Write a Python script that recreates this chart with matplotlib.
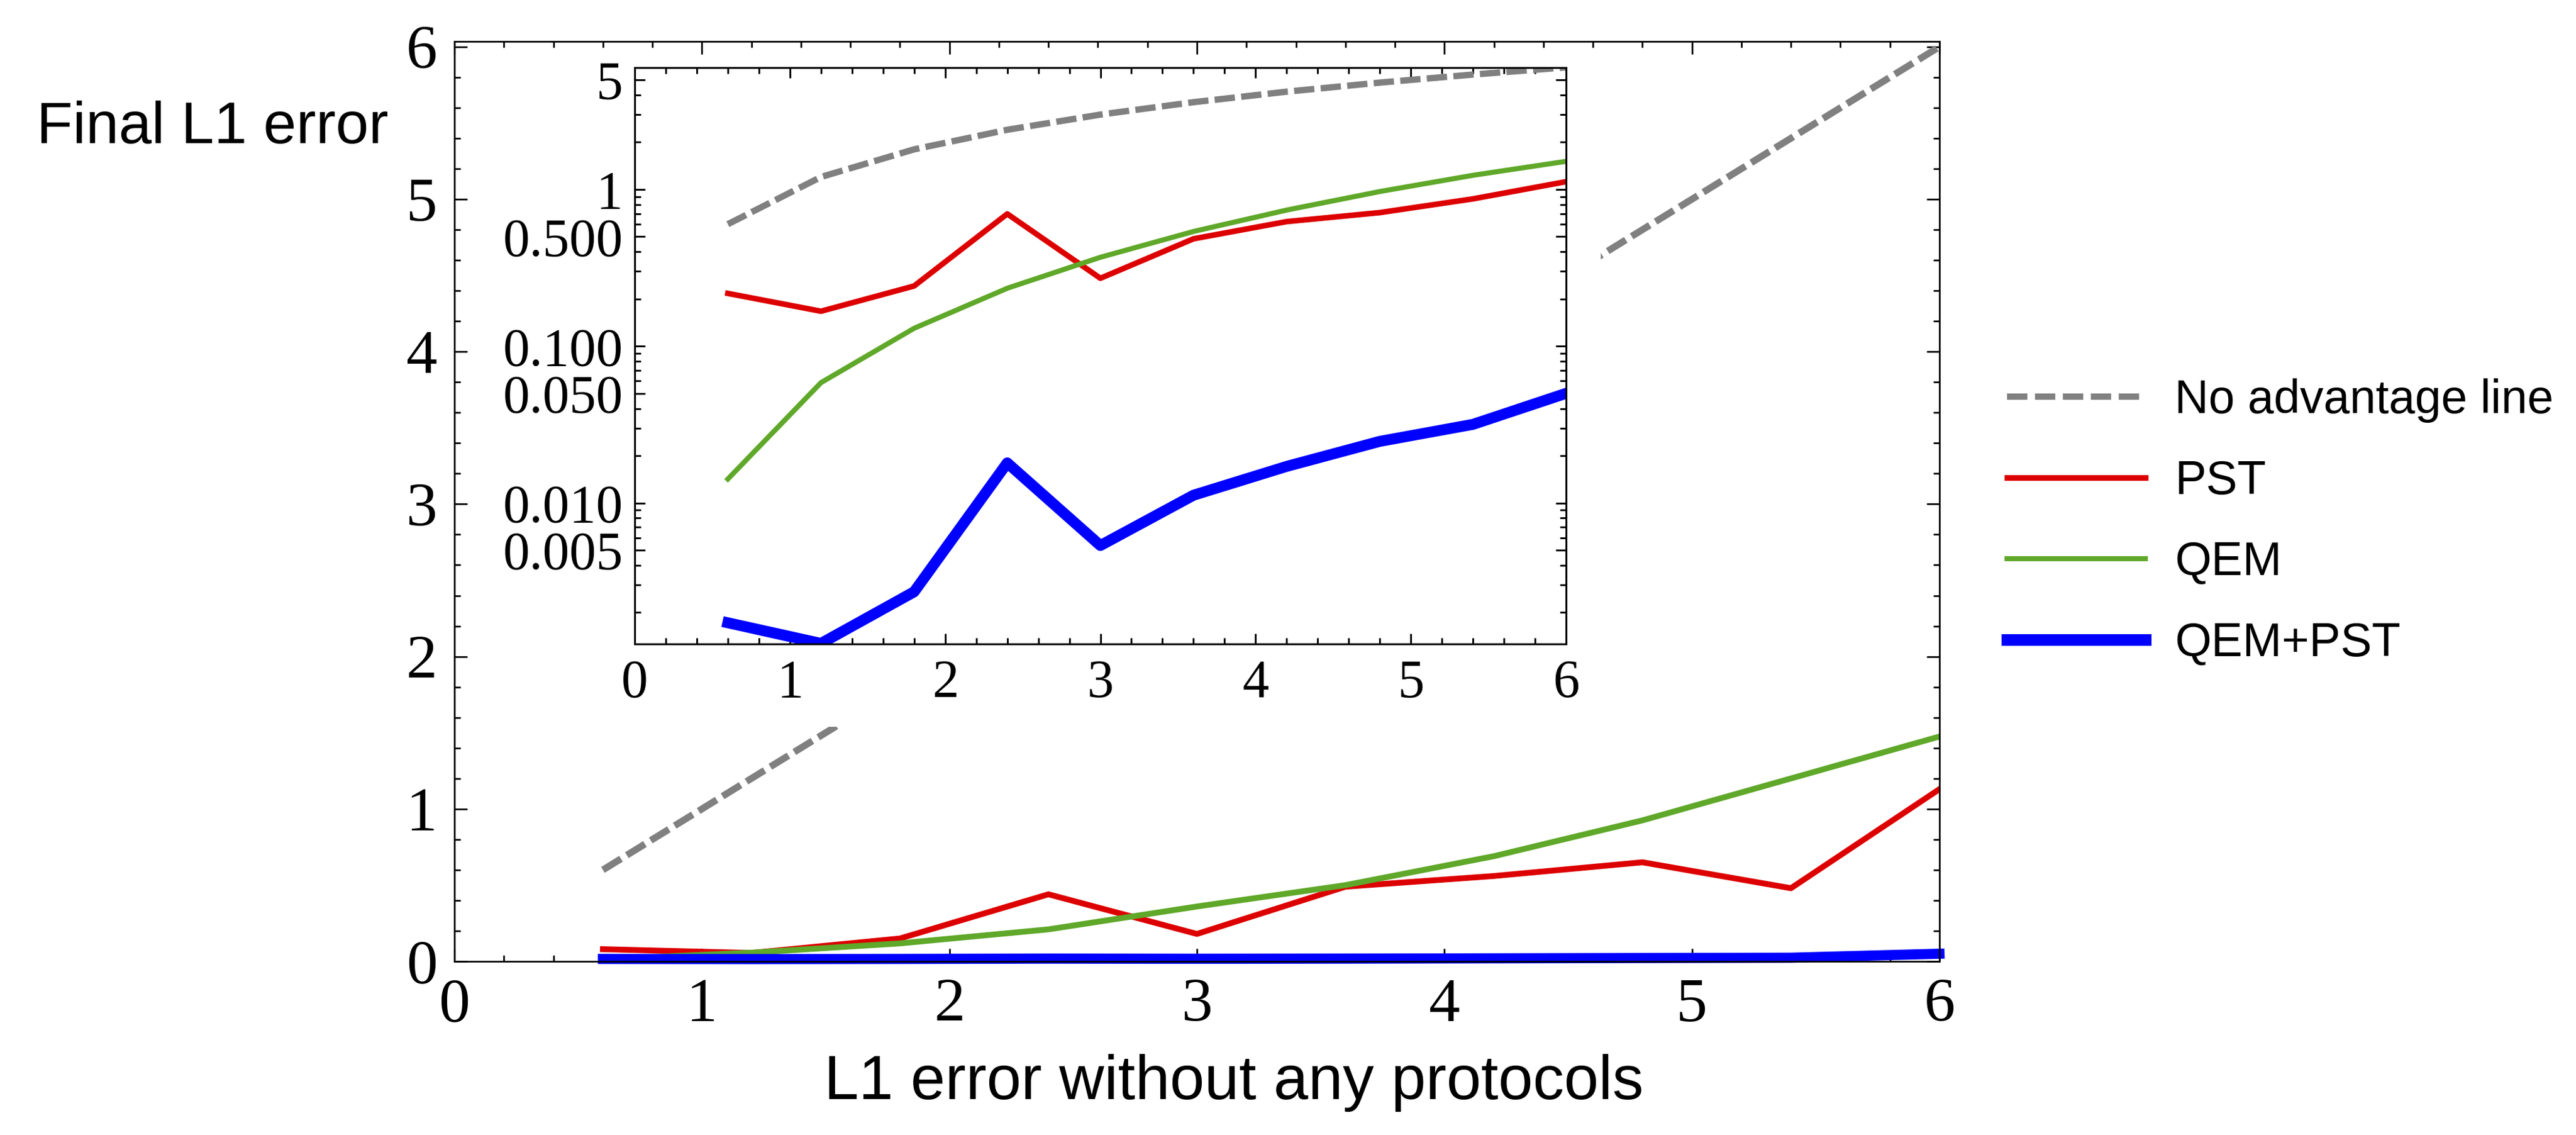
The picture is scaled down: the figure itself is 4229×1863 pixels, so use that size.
import numpy as np
import matplotlib.pyplot as plt
from matplotlib.patches import Rectangle
from matplotlib.lines import Line2D
from matplotlib.ticker import MultipleLocator, FixedLocator, LogLocator, NullFormatter, FixedFormatter

# L1 error without protocols (x) - same grid for every curve
x = [0.6, 1.2, 1.8, 2.4, 3.0, 3.6, 4.2, 4.8, 5.4, 6.0]
no_adv = [0.6, 1.2, 1.8, 2.4, 3.0, 3.6, 4.2, 4.8, 5.4, 6.0]

# main panel, linear axis
pst_main = [0.08, 0.055, 0.15, 0.44, 0.18, 0.49, 0.56, 0.65, 0.48, 1.13]
qem_main = [0.015, 0.057, 0.118, 0.21, 0.36, 0.50, 0.69, 0.925, 1.20, 1.475]
both_main = [0.016, 0.015, 0.016, 0.018, 0.017, 0.018, 0.020, 0.022, 0.024, 0.050]

# inset, log axis
pst_log = [0.217, 0.167, 0.242, 0.698, 0.271, 0.484, 0.623, 0.711, 0.870, 1.12]
qem_log = [0.0142, 0.0585, 0.130, 0.234, 0.369, 0.539, 0.738, 0.969, 1.23, 1.51]
both_log = [0.00172, 0.00127, 0.00271, 0.0180, 0.00535, 0.0112, 0.0171, 0.0247, 0.0317, 0.050]

inset_yticks = [0.005, 0.01, 0.05, 0.1, 0.5, 1, 5]
inset_ylabels = ['0.005', '0.010', '0.050', '0.100', '0.500', '1', '5']

labels = ['No advantage line', 'PST', 'QEM', 'QEM+PST']

GRAY = '#808080'
RED = '#DD0000'
GREEN = '#5FA829'
BLUE = '#0000FF'

W, H = 4229, 1863
fig = plt.figure(figsize=(W / 300, H / 300), dpi=300)

serif = 'Liberation Serif'
sans = 'Liberation Sans'

# ---- main axes ----
ax = fig.add_axes([746 / W, 1 - 1578 / H, (3184 - 746) / W, (1578 - 68) / H])
ax.plot(x, no_adv, color=GRAY, lw=2.7, dashes=(3.1, 1.0))
ax.plot(x, pst_main, color=RED, lw=2.3)
ax.plot(x, qem_main, color=GREEN, lw=2.3)
ax.plot(x, both_main, color=BLUE, lw=4.0, clip_on=False)
ax.set_xlim(0, 6)
ax.set_ylim(0, 6.035)
ax.xaxis.set_major_locator(MultipleLocator(1))
ax.yaxis.set_major_locator(MultipleLocator(1))
ax.xaxis.set_minor_locator(MultipleLocator(0.2))
ax.yaxis.set_minor_locator(MultipleLocator(0.2))
ax.tick_params(which='both', direction='in', top=True, right=True, width=0.65)
ax.tick_params(which='major', length=5.1, pad=6.7, labelsize=24.5)
ax.tick_params(which='minor', length=2.4)
for lab in ax.get_xticklabels() + ax.get_yticklabels():
    lab.set_fontfamily(serif)
for s in ax.spines.values():
    s.set_linewidth(0.65)

# white box behind the inset and its labels
ax.add_patch(Rectangle((810 / W, 1 - 1193 / H), (2628 - 810) / W, (1193 - 100) / H,
                       transform=fig.transFigure, facecolor='white', edgecolor='none',
                       zorder=5, clip_on=False))

# ---- inset ----
ins = fig.add_axes([1042 / W, 1 - 1057 / H, (2571 - 1042) / W, (1057 - 111) / H])
ins.set_zorder(3)
ins.plot(x, no_adv, color=GRAY, lw=2.5, dashes=(3.2, 1.0))
ins.plot(x, pst_log, color=RED, lw=2.2)
ins.plot(x, qem_log, color=GREEN, lw=2.0)
ins.plot(x, both_log, color=BLUE, lw=4.3)
ins.set_yscale('log')
ins.set_xlim(0, 6)
ins.set_ylim(0.00126, 5.98)
ins.xaxis.set_major_locator(MultipleLocator(1))
ins.xaxis.set_minor_locator(MultipleLocator(0.2))
ins.yaxis.set_major_locator(FixedLocator(inset_yticks))
ins.yaxis.set_major_formatter(FixedFormatter(inset_ylabels))
ins.yaxis.set_minor_locator(LogLocator(base=10, subs=np.arange(1, 10), numticks=20))
ins.yaxis.set_minor_formatter(NullFormatter())
ins.tick_params(which='both', direction='in', top=True, right=True, width=0.7)
ins.tick_params(which='major', length=4.0, labelsize=21)
ins.tick_params(axis='x', which='major', pad=6)
ins.tick_params(axis='y', which='major', pad=4.7)
ins.tick_params(which='minor', length=2.5)
for lab in ins.get_xticklabels() + ins.get_yticklabels():
    lab.set_fontfamily(serif)
for s in ins.spines.values():
    s.set_linewidth(0.75)

# ---- labels ----
fig.text(638 / W, 1 - 235 / H, 'Final L1 error', family=sans, fontsize=23.3,
         ha='right', va='baseline')
fig.text(2026 / W, 1 - 1804 / H, 'L1 error without any protocols', family=sans,
         fontsize=24.5, ha='center', va='baseline')

# ---- legend ----
handles = [Line2D([], [], color=GRAY, lw=2.5, dashes=(3.2, 1.2)),
           Line2D([], [], color=RED, lw=2.25),
           Line2D([], [], color=GREEN, lw=2.0),
           Line2D([], [], color=BLUE, lw=4.6)]
fig.legend(handles, labels, loc='center left', bbox_to_anchor=(3295 / W, 1 - 857 / H),
           frameon=False, borderpad=0, borderaxespad=0, handlelength=2.95,
           handletextpad=0.62, labelspacing=0.78, prop={'family': sans, 'size': 18.5})

fig.savefig('out.png', dpi=300)
